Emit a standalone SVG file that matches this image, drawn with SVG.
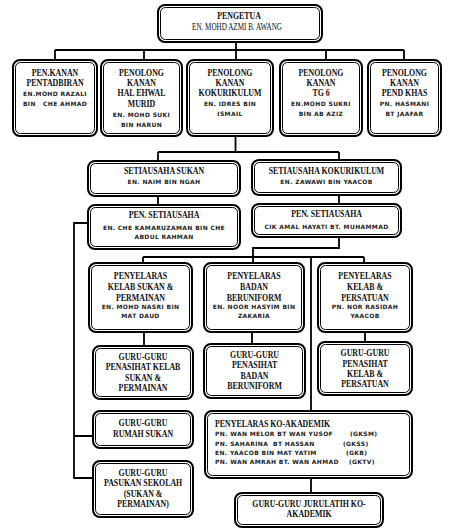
<svg xmlns="http://www.w3.org/2000/svg" width="458" height="532" viewBox="0 0 458 532">
<style>
.o{fill:#fff;stroke:#000;stroke-width:2}
.i{fill:none;stroke:#000;stroke-width:1}
.c{fill:none;stroke:#000;stroke-width:1.8}
.h{font-family:"Liberation Serif","Times New Roman",serif;font-weight:bold;font-size:10.5px;fill:#111;text-anchor:middle;transform-box:fill-box;transform-origin:center;transform:scaleX(.75)}
.hl{text-anchor:start;transform-origin:left center}
.hn{font-weight:normal;font-size:9.5px}
.n{font-family:"DejaVu Sans",Verdana,sans-serif;font-weight:bold;font-size:6px;letter-spacing:.35px;fill:#222;text-anchor:middle;white-space:pre}
.nl{text-anchor:start}
</style>
<g id="connectors">
<path class="c" d="M236 43V50M55 50H404M55 50V59M144 50V59M236 50V59M326 50V59M404 50V59"/>
<path class="c" d="M235.5 137V152M158 152H339M158 152V160M339 152V159M158 197V204M339 196V203"/>
<path class="c" d="M339 238V248H253V257M143 257H364M143 257V262M253 257V262M364 257V262M311 257V410"/>
<path class="c" d="M144 333V345M252 333V343M365 333V341M311 479V492"/>
<path class="c" d="M87 223H74V478H92M74 436H92"/>
</g>
<g id="pengetua">
<rect class="o" x="158" y="5" width="164" height="37" rx="7"/><rect class="i" x="160.5" y="7.5" width="159" height="32" rx="5"/>
<text class="h" x="239" y="19.5">PENGETUA</text>
<text class="h hn" x="237" y="30.5">EN. MOHD AZMI B. AWANG</text>
</g>
<g id="pk-pentadbiran">
<rect class="o" x="13" y="60" width="84" height="76" rx="7"/><rect class="i" x="15.5" y="62.5" width="79" height="71" rx="5"/>
<text class="h" x="55" y="75.7">PEN.KANAN</text>
<text class="h" x="55" y="86.3">PENTADBIRAN</text>
<text class="n" x="55" y="95.5">EN.MOHD RAZALI</text>
<text class="n" x="55" y="105.7">BIN   CHE AHMAD</text>
</g>
<g id="pk-hem">
<rect class="o" x="101" y="60" width="81" height="76" rx="7"/><rect class="i" x="103.5" y="62.5" width="76" height="71" rx="5"/>
<text class="h" x="141.5" y="75.7">PENOLONG</text>
<text class="h" x="141.5" y="86.2">KANAN</text>
<text class="h" x="141.5" y="96.5">HAL EHWAL</text>
<text class="h" x="141.5" y="107">MURID</text>
<text class="n" x="141.5" y="117.3">EN. MOHD SUKI</text>
<text class="n" x="141.5" y="126.5">BIN HARUN</text>
</g>
<g id="pk-kokurikulum">
<rect class="o" x="187" y="60" width="86" height="76" rx="7"/><rect class="i" x="189.5" y="62.5" width="81" height="71" rx="5"/>
<text class="h" x="230" y="75.7">PENOLONG</text>
<text class="h" x="230" y="86.2">KANAN</text>
<text class="h" x="230" y="96.5">KOKURIKULUM</text>
<text class="n" x="230" y="106">EN. IDRES BIN</text>
<text class="n" x="230" y="116">ISMAIL</text>
</g>
<g id="pk-tg6">
<rect class="o" x="280" y="60" width="82" height="76" rx="7"/><rect class="i" x="282.5" y="62.5" width="77" height="71" rx="5"/>
<text class="h" x="321" y="75.7">PENOLONG</text>
<text class="h" x="321" y="86.2">KANAN</text>
<text class="h" x="321" y="96.5">TG 6</text>
<text class="n" x="321" y="106">EN.MOHD SUKRI</text>
<text class="n" x="321" y="116">BIN AB AZIZ</text>
</g>
<g id="pk-pendkhas">
<rect class="o" x="368" y="60" width="73" height="76" rx="7"/><rect class="i" x="370.5" y="62.5" width="68" height="71" rx="5"/>
<text class="h" x="404.5" y="75.7">PENOLONG</text>
<text class="h" x="404.5" y="86.2">KANAN</text>
<text class="h" x="404.5" y="96.5">PEND KHAS</text>
<text class="n" x="404.5" y="106">PN. HASMANI</text>
<text class="n" x="404.5" y="116">BT JAAFAR</text>
</g>
<g id="setiausaha-sukan">
<rect class="o" x="88" y="161" width="152" height="35" rx="7"/><rect class="i" x="90.5" y="163.5" width="147" height="30" rx="5"/>
<text class="h" x="164" y="174.3">SETIAUSAHA SUKAN</text>
<text class="n" x="164" y="184">EN. NAIM BIN NGAH</text>
</g>
<g id="setiausaha-kokurikulum">
<rect class="o" x="252" y="160" width="149" height="35" rx="7"/><rect class="i" x="254.5" y="162.5" width="144" height="30" rx="5"/>
<text class="h" x="326.5" y="174">SETIAUSAHA KOKURIKULUM</text>
<text class="n" x="326.5" y="184">EN. ZAWAWI BIN YAACOB</text>
</g>
<g id="pen-setiausaha-sukan">
<rect class="o" x="88" y="205" width="152" height="44" rx="7"/><rect class="i" x="90.5" y="207.5" width="147" height="39" rx="5"/>
<text class="h" x="164" y="218.3">PEN. SETIAUSAHA</text>
<text class="n" x="164" y="230.3">EN. CHE KAMARUZAMAN BIN CHE</text>
<text class="n" x="164" y="239.3">ABDUL RAHMAN</text>
</g>
<g id="pen-setiausaha-koku">
<rect class="o" x="252" y="204" width="149" height="33" rx="7"/><rect class="i" x="254.5" y="206.5" width="144" height="28" rx="5"/>
<text class="h" x="326.5" y="217.3">PEN. SETIAUSAHA</text>
<text class="n" x="326.5" y="229.3">CIK AMAL HAYATI BT. MUHAMMAD</text>
</g>
<g id="py-sukan">
<rect class="o" x="89" y="263" width="103" height="69" rx="7"/><rect class="i" x="91.5" y="265.5" width="98" height="64" rx="5"/>
<text class="h" x="140.5" y="279">PENYELARAS</text>
<text class="h" x="140.5" y="290">KELAB SUKAN &amp;</text>
<text class="h" x="140.5" y="300.7">PERMAINAN</text>
<text class="n" x="140.5" y="309.3">EN. MOHD NASRI BIN</text>
<text class="n" x="140.5" y="318.3">MAT DAUD</text>
</g>
<g id="py-beruniform">
<rect class="o" x="204" y="263" width="100" height="69" rx="7"/><rect class="i" x="206.5" y="265.5" width="95" height="64" rx="5"/>
<text class="h" x="254" y="279">PENYELARAS</text>
<text class="h" x="254" y="290">BADAN</text>
<text class="h" x="254" y="300.7">BERUNIFORM</text>
<text class="n" x="254" y="309.3">EN. NOOR HASYIM BIN</text>
<text class="n" x="254" y="318.3">ZAKARIA</text>
</g>
<g id="py-persatuan">
<rect class="o" x="318" y="263" width="94" height="69" rx="7"/><rect class="i" x="320.5" y="265.5" width="89" height="64" rx="5"/>
<text class="h" x="365" y="279">PENYELARAS</text>
<text class="h" x="365" y="290">KELAB &amp;</text>
<text class="h" x="365" y="300.7">PERSATUAN</text>
<text class="n" x="365" y="309.3">PN. NOR RASIDAH</text>
<text class="n" x="365" y="318.3">YAACOB</text>
</g>
<g id="guru-sukan">
<rect class="o" x="93" y="346" width="100" height="53" rx="7"/><rect class="i" x="95.5" y="348.5" width="95" height="48" rx="5"/>
<text class="h" x="143" y="360">GURU-GURU</text>
<text class="h" x="143" y="370.5">PENASIHAT KELAB</text>
<text class="h" x="143" y="381">SUKAN &amp;</text>
<text class="h" x="143" y="391.5">PERMAINAN</text>
</g>
<g id="guru-beruniform">
<rect class="o" x="204" y="344" width="101" height="54" rx="7"/><rect class="i" x="206.5" y="346.5" width="96" height="49" rx="5"/>
<text class="h" x="254.5" y="358.3">GURU-GURU</text>
<text class="h" x="254.5" y="368.5">PENASIHAT</text>
<text class="h" x="254.5" y="379">BADAN</text>
<text class="h" x="254.5" y="389">BERUNIFORM</text>
</g>
<g id="guru-persatuan">
<rect class="o" x="318" y="342" width="94" height="53" rx="7"/><rect class="i" x="320.5" y="344.5" width="89" height="48" rx="5"/>
<text class="h" x="365" y="356">GURU-GURU</text>
<text class="h" x="365" y="366.7">PENASIHAT</text>
<text class="h" x="365" y="376.7">KELAB &amp;</text>
<text class="h" x="365" y="386.7">PERSATUAN</text>
</g>
<g id="guru-rumah-sukan">
<rect class="o" x="93" y="411" width="100" height="37" rx="7"/><rect class="i" x="95.5" y="413.5" width="95" height="32" rx="5"/>
<text class="h" x="143" y="426">GURU-GURU</text>
<text class="h" x="143" y="436.7">RUMAH SUKAN</text>
</g>
<g id="guru-pasukan">
<rect class="o" x="93" y="461" width="100" height="56" rx="7"/><rect class="i" x="95.5" y="463.5" width="95" height="51" rx="5"/>
<text class="h" x="143" y="476">GURU-GURU</text>
<text class="h" x="143" y="486.3">PASUKAN SEKOLAH</text>
<text class="h" x="143" y="496.7">(SUKAN &amp;</text>
<text class="h" x="143" y="506.7">PERMAINAN)</text>
</g>
<g id="ko-akademik">
<rect class="o" x="205" y="411" width="207" height="67" rx="7"/><rect class="i" x="207.5" y="413.5" width="202" height="62" rx="5"/>
<text class="h hl" x="215" y="426.7">PENYELARAS KO-AKADEMIK</text>
<text class="n nl" x="215" y="436">PN. WAN MELOR BT WAN YUSOF</text><text class="n nl" x="350" y="436">(GKSM)</text>
<text class="n nl" x="215" y="445.7">PN. SAHARINA  BT HASSAN</text><text class="n nl" x="343" y="445.7">(GKSS)</text>
<text class="n nl" x="215" y="455">EN. YAACOB BIN MAT YATIM</text><text class="n nl" x="346" y="455">(GKB)</text>
<text class="n nl" x="215" y="464.3">PN. WAN AMRAH BT. WAN AHMAD</text><text class="n nl" x="349" y="464.3">(GKTV)</text>
</g>
<g id="jurulatih">
<rect class="o" x="235" y="493" width="148" height="34" rx="7"/><rect class="i" x="237.5" y="495.5" width="143" height="29" rx="5"/>
<text class="h" x="309" y="506.7">GURU-GURU JURULATIH KO-</text>
<text class="h" x="309" y="517.3">AKADEMIK</text>
</g>
</svg>
